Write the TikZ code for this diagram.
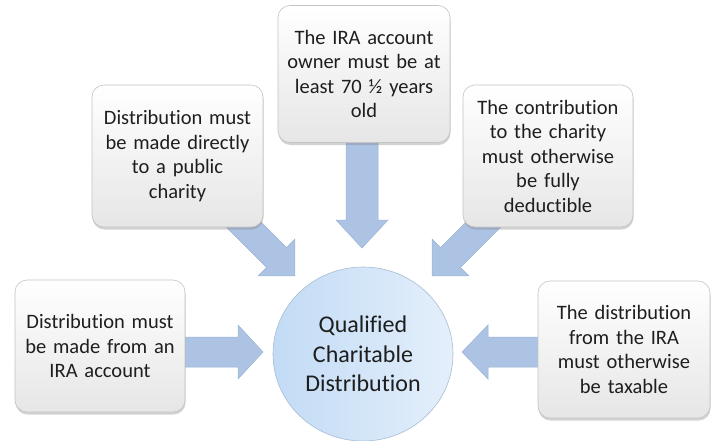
\documentclass[tikz,border=0pt]{standalone}
\usepackage{fontspec}
\setmainfont{Carlito}[RawFeature={-liga;-clig;-calt;-dlig}]
\usetikzlibrary{shadows,shapes.geometric}
\definecolor{txt}{HTML}{1E1E1E}
\definecolor{arrfill}{HTML}{ACC3E4}
\definecolor{arrline}{HTML}{9AB2D6}
\definecolor{boxline}{HTML}{C4C4C4}
\definecolor{boxbot}{HTML}{E6E6E6}
\definecolor{circL}{HTML}{C2DBF5}
\definecolor{circR}{HTML}{E4EFFB}
\definecolor{circline}{HTML}{A8BDD4}
\tikzset{
  infobox/.style={draw=boxline, line width=0.6pt, rounded corners=12pt,
    top color=white, bottom color=boxbot, align=center, text=txt,
    font=\fontsize{20.5}{24.5}\selectfont, inner sep=0pt,
    drop shadow={shadow xshift=0.5pt, shadow yshift=-2.5pt, opacity=0.35, fill=gray}},
  hub/.style={ellipse, draw=circline, line width=0.6pt, left color=circL, right color=circR,
    align=center, text=txt, font=\fontsize{24}{29.5}\selectfont, inner sep=0pt},
  blockarrow/.style={fill=arrfill, draw=arrline, line width=0.5pt, line join=miter}
}
% #1 start, #2 angle, #3 length, #4 body half width, #5 head half width, #6 head length
\newcommand\myblockarrow[6]{%
  \begin{scope}[shift={#1}, rotate=#2]
    \path[blockarrow] (0,-#4) -- ({#3-#6},-#4) -- ({#3-#6},-#5) -- (#3,0) --
      ({#3-#6},#5) -- ({#3-#6},#4) -- (0,#4) -- cycle;
  \end{scope}}
\begin{document}
\begin{tikzpicture}[x=1pt,y=-1pt]
\useasboundingbox[fill=white] (0,0) rectangle (719,440);
% arrows (behind the boxes)
\myblockarrow{(150,352)}{0}{113}{15}{27}{25}
\myblockarrow{(580,352)}{180}{118}{15}{27}{26}
\myblockarrow{(362,100)}{-90}{148}{16}{26}{28}
\myblockarrow{(215,196)}{-45}{113}{14}{26}{26}
\myblockarrow{(512,196)}{-135}{113}{14}{26}{26}
% boxes
\node[infobox, minimum width=170pt, minimum height=132pt, text width=168pt] (left) at (100,346)
  {Distribution must\\be made from an\\IRA account};
\node[infobox, minimum width=171pt, minimum height=142pt, text width=168pt] (topleft) at (177.5,156)
  {Distribution must\\be made directly\\to a public\\charity};
\node[infobox, minimum width=172pt, minimum height=137pt, text width=168pt] (top) at (364,74)
  {The IRA account\\owner must be at\\least 70 ½ years\\old};
\node[infobox, minimum width=170pt, minimum height=142pt, text width=168pt] (topright) at (548,156)
  {The contribution\\to the charity\\must otherwise\\be fully\\deductible};
\node[infobox, minimum width=172pt, minimum height=137pt, text width=168pt] (right) at (624,349.5)
  {The distribution\\from the IRA\\must otherwise\\be taxable};
% hub
\node[hub, minimum width=180pt, minimum height=174pt] (qcd) at (363,354)
  {Qualified\\Charitable\\Distribution};
\end{tikzpicture}
\end{document}
